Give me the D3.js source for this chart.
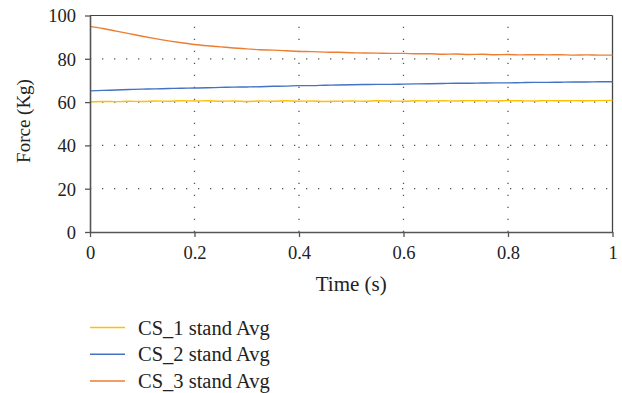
<!DOCTYPE html>
<html><head><meta charset="utf-8">
<script src="https://cdn.jsdelivr.net/npm/d3@7"></script>
<style>body{margin:0;background:#fff}svg{display:block}text{font-family:"Liberation Serif","Times New Roman",serif;fill:#222}</style>
</head><body><svg id="c" width="622" height="393"></svg>
<script>
const time = d3.range(0, 41).map(i => i / 40);
const cs1 = [60.1,60.3,60.2,60.4,60.3,60.5,60.4,60.6,60.5,60.6,60.4,60.5,60.3,60.5,60.4,60.6,60.4,60.5,60.3,60.4,60.5,60.4,60.6,60.5,60.4,60.6,60.5,60.6,60.5,60.7,60.6,60.5,60.7,60.6,60.5,60.7,60.6,60.7,60.6,60.7,60.8];
const cs2 = [65.2,65.4,65.6,65.8,66.0,66.1,66.3,66.4,66.5,66.6,66.8,66.9,67.0,67.1,67.3,67.4,67.6,67.6,67.8,67.9,68.0,68.1,68.2,68.2,68.3,68.4,68.5,68.6,68.7,68.7,68.8,68.9,68.9,69.0,69.1,69.1,69.2,69.3,69.3,69.4,69.4];
const cs3 = [95.0,94.0,92.8,91.6,90.4,89.3,88.3,87.4,86.6,86.0,85.5,85.0,84.6,84.2,84.0,83.7,83.4,83.3,83.1,83.0,82.8,82.7,82.6,82.5,82.5,82.3,82.3,82.1,82.2,82.0,82.1,81.9,82.0,81.8,81.9,81.8,81.9,81.7,81.8,81.7,81.7];
const seriesNames = ["CS_1 stand Avg","CS_2 stand Avg","CS_3 stand Avg"];
const seriesColors = ["#FFC000","#4472C4","#ED7D31"];
const xTicks = [0,0.2,0.4,0.6,0.8,1];
const yTicks = [0,20,40,60,80,100];

const svg = d3.select("#c");
const L = 90, R = 612.5, T = 15.5, B = 232;
const x = d3.scaleLinear().domain([0,1]).range([L,R]);
const y = d3.scaleLinear().domain([0,100]).range([B,T]);

// grid
const g = svg.append("g");
yTicks.filter(v => v>0 && v<100).forEach(v => {
  g.append("line").attr("x1",L).attr("x2",R).attr("y1",y(v)).attr("y2",y(v))
   .attr("stroke","#555").attr("stroke-width",1.3).attr("stroke-dasharray","1.3 10.7");
});
xTicks.filter(v => v>0 && v<1).forEach(v => {
  g.append("line").attr("x1",x(v)).attr("x2",x(v)).attr("y1",B).attr("y2",T)
   .attr("stroke","#555").attr("stroke-width",1.3).attr("stroke-dasharray","1.3 10.7");
});
// frame
svg.append("line").attr("x1",L).attr("x2",R).attr("y1",T).attr("y2",T).attr("stroke","#444").attr("stroke-width",1);
svg.append("line").attr("x1",R).attr("x2",R).attr("y1",T).attr("y2",B).attr("stroke","#444").attr("stroke-width",1.3);

// series
const data = [cs1, cs2, cs3];
const line = d3.line().x((d,i) => x(time[i])).y(d => y(d)).curve(d3.curveMonotoneX);
data.forEach((s,k) => {
  svg.append("path").datum(s).attr("d", line).attr("fill","none")
    .attr("stroke", seriesColors[k]).attr("stroke-width",1.4);
});

// axes
const xa = svg.append("g").attr("transform",`translate(0,${B})`)
  .call(d3.axisBottom(x).tickValues(xTicks).tickSize(5).tickSizeOuter(0).tickFormat(d3.format("")));
const ya = svg.append("g").attr("transform",`translate(${L},0)`)
  .call(d3.axisLeft(y).tickValues(yTicks).tickSize(5).tickSizeOuter(0));
[xa,ya].forEach(a => {
  a.select(".domain").attr("stroke","#555").attr("stroke-width",1.6);
  a.selectAll(".tick line").attr("stroke","#555").attr("stroke-width",1.3);
  a.selectAll("text").style("font-size","18.5px").style("font-family","'Liberation Serif',serif").attr("fill","#222");
});
xa.selectAll("text").attr("dy",null).attr("y",27);
ya.selectAll("text").attr("x",-14).attr("dy","0.35em");

svg.append("text").attr("x",(L+R)/2).attr("y",291).attr("text-anchor","middle").style("font-size","21px").text("Time (s)");
svg.append("text").attr("transform",`translate(30,121) rotate(-90)`).attr("text-anchor","middle").style("font-size","19px").text("Force (Kg)");

// legend
const lg = svg.append("g");
seriesNames.forEach((n,k) => {
  const yy = 327.5 + k*26.8;
  lg.append("line").attr("x1",90).attr("x2",125).attr("y1",yy).attr("y2",yy).attr("stroke",seriesColors[k]).attr("stroke-width",1.5);
  lg.append("text").attr("x",138).attr("y",yy).attr("dy","0.35em").style("font-size","20.5px").text(n);
});
</script></body></html>
